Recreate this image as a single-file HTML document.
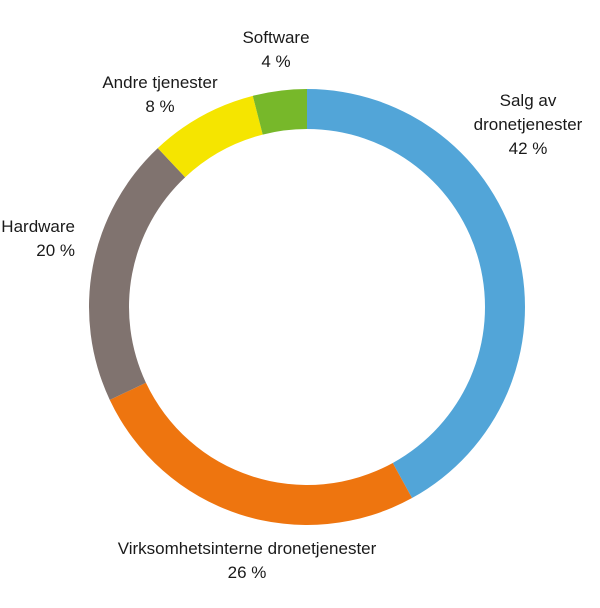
<!DOCTYPE html>
<html><head><meta charset="utf-8"><style>
html,body{margin:0;padding:0;background:#fff;}
svg text{font-family:"Liberation Sans",sans-serif;font-size:17px;fill:#1a1a1a;}
</style></head><body>
<svg id="chart" width="600" height="603" viewBox="0 0 600 603"></svg>
<script>
const categories = ["Salg av dronetjenester","Virksomhetsinterne dronetjenester","Hardware","Andre tjenester","Software"];
const values = [42,26,20,8,4];
const valueLabels = ["42 %","26 %","20 %","8 %","4 %"];
const colors = ["#52a5d8","#ee750f","#80736f","#f5e500","#77b82a"];
const cx=307, cy=307, R=218, r=178;
const svg=document.getElementById('chart');
const NS='http://www.w3.org/2000/svg';
const total=values.reduce((a,b)=>a+b,0);
function pt(a,rad){return [cx+rad*Math.sin(a), cy-rad*Math.cos(a)];}
let acc=0;
values.forEach((v,i)=>{
  const a0=acc/total*2*Math.PI; acc+=v; const a1=acc/total*2*Math.PI;
  const large=(a1-a0)>Math.PI?1:0;
  const [x0,y0]=pt(a0,R),[x1,y1]=pt(a1,R),[x2,y2]=pt(a1,r),[x3,y3]=pt(a0,r);
  const p=document.createElementNS(NS,'path');
  p.setAttribute('d',`M${x0},${y0}A${R},${R} 0 ${large} 1 ${x1},${y1}L${x2},${y2}A${r},${r} 0 ${large} 0 ${x3},${y3}Z`);
  p.setAttribute('fill',colors[i]);
  
  
  svg.appendChild(p);
});
const labelLines=[["Salg av","dronetjenester"],["Virksomhetsinterne dronetjenester"],["Hardware"],["Andre tjenester"],["Software"]];
const labelPos=[[528,106,'middle'],[247,554,'middle'],[75,232,'end'],[160,88,'middle'],[276,43,'middle']];
labelLines.forEach((lines,i)=>{
  const [x,y,anchor]=labelPos[i];
  const t=document.createElementNS(NS,'text');
  t.setAttribute('text-anchor',anchor);
  
  
  const all=lines.concat([valueLabels[i]]);
  all.forEach((s,j)=>{
    const ts=document.createElementNS(NS,'tspan');
    ts.setAttribute('x',x); ts.setAttribute('y',y+j*24);
    ts.textContent=s; t.appendChild(ts);
  });
  svg.appendChild(t);
});
</script>
</body></html>
